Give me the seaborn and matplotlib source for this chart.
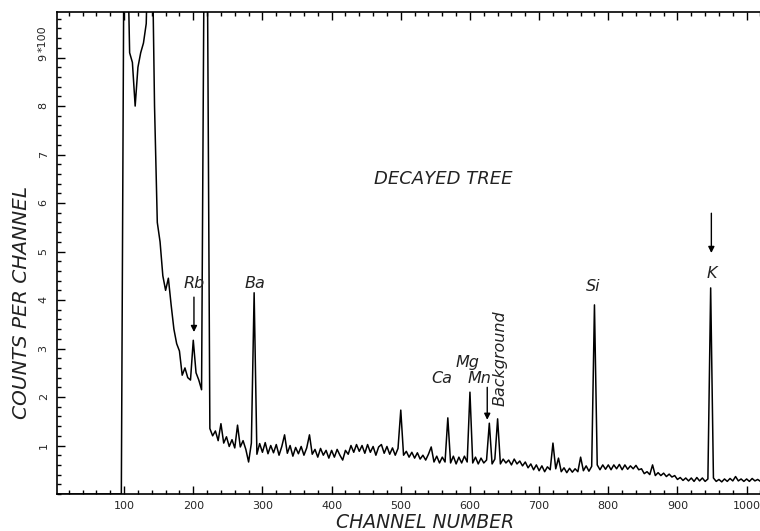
import numpy as np
import pandas as pd
import matplotlib
matplotlib.use("Agg")
import matplotlib.pyplot as plt
from matplotlib.ticker import MultipleLocator, FixedLocator
import seaborn as sns

# spectrum, counts in units of 100, one value every 4 channels (0..1036)
channels = np.arange(0, 1040, 4)
counts = [
    0, 0, 0, 0, 0, 0, 0, 0, 0, 0,                                  # 0-36
    0, 0, 0, 0, 0, 0, 0, 0, 0, 0,                                  # 40-76
    0, 0, 0, 0, 0, 12, 12, 9.1, 8.9, 8.0,                          # 80-116
    8.8, 9.1, 9.3, 9.7, 12, 12, 8.0, 5.6, 5.2, 4.5,                # 120-156
    4.2, 4.45, 3.9, 3.4, 3.1, 2.95, 2.45, 2.6, 2.4, 2.35,          # 160-196
    3.17, 2.5, 2.35, 2.15, 12, 12, 1.35, 1.2, 1.3, 1.1,            # 200-236
    1.45, 1.05, 1.18, 0.98, 1.12, 0.95, 1.42, 0.97, 1.1, 0.92,     # 240-276
    0.66, 1.05, 4.15, 0.82, 1.04, 0.86, 1.06, 0.83, 1.0, 0.85,     # 280-316
    1.02, 0.8, 0.98, 1.22, 0.84, 1.0, 0.78, 0.96, 0.83, 0.98,      # 320-356
    0.8, 0.95, 1.22, 0.82, 0.92, 0.76, 0.94, 0.8, 0.9, 0.74,       # 360-396
    0.9, 0.76, 0.92, 0.8, 0.7, 0.9, 0.82, 1.0, 0.86, 1.02,         # 400-436
    0.88, 1.0, 0.84, 1.02, 0.86, 0.98, 0.8, 0.97, 1.02, 0.84,      # 440-476
    0.98, 0.82, 0.95, 0.8, 0.94, 1.73, 0.8, 0.88, 0.76, 0.86,      # 480-516
    0.74, 0.85, 0.72, 0.8, 0.7, 0.82, 0.97, 0.66, 0.78, 0.64,      # 520-556
    0.76, 0.66, 1.57, 0.64, 0.78, 0.62, 0.76, 0.64, 0.78, 0.66,    # 560-596
    2.1, 0.64, 0.76, 0.62, 0.74, 0.64, 0.7, 1.46, 0.62, 0.72,      # 600-636
    1.55, 0.62, 0.72, 0.64, 0.7, 0.6, 0.72, 0.62, 0.68, 0.58,      # 640-676
    0.66, 0.54, 0.62, 0.5, 0.6, 0.48, 0.58, 0.46, 0.56, 0.5,       # 680-716
    1.05, 0.52, 0.74, 0.46, 0.54, 0.44, 0.53, 0.45, 0.52, 0.46,    # 720-756
    0.76, 0.48, 0.58, 0.47, 0.57, 3.9, 0.6, 0.5, 0.6, 0.51,        # 760-796
    0.6, 0.5, 0.6, 0.52, 0.61, 0.5, 0.6, 0.51, 0.58, 0.52,         # 800-836
    0.59, 0.5, 0.52, 0.42, 0.46, 0.4, 0.6, 0.38, 0.44, 0.38,       # 840-876
    0.43, 0.36, 0.41, 0.35, 0.38, 0.3, 0.34, 0.28, 0.33, 0.27,     # 880-916
    0.33, 0.26, 0.34, 0.27, 0.33, 0.26, 0.31, 4.25, 0.33, 0.26,    # 920-956
    0.3, 0.25, 0.31, 0.26, 0.32, 0.27, 0.36, 0.27, 0.31, 0.26,     # 960-996
    0.31, 0.26, 0.32, 0.27, 0.3, 0.26, 0.31, 0.27, 0.3, 0.28,      # 1000-1036
]

# peak labels: text, channel, height (x100 counts)
elem_names = ["Rb", "Ba", "Si", "K", "Ca", "Mg", "Mn"]
elem_x = [202, 289, 778, 950, 559, 596, 614]
elem_y = [4.35, 4.35, 4.27, 4.54, 2.39, 2.72, 2.39]

# arrows: channel, tail height, tip height
arrow_x = [201, 625, 949]
arrow_from = [4.06, 2.2, 5.79]
arrow_to = [3.34, 1.53, 4.97]

df = pd.DataFrame({"channel": channels, "counts": counts})

sns.set_style("ticks")
plt.rcParams["font.family"] = ["DejaVu Sans"]

fig = plt.figure(figsize=(7.6, 5.31), dpi=100)
ax = fig.add_axes([57 / 760, 37 / 531, 709 / 760, 482 / 531])

sns.lineplot(data=df, x="channel", y="counts", ax=ax, color="black",
             linewidth=1.1, estimator=None, sort=False)

ax.set_xlim(3, 1028)
ax.set_ylim(0, 9.94)

ax.xaxis.set_major_locator(FixedLocator(range(100, 1001, 100)))
ax.xaxis.set_minor_locator(MultipleLocator(20))
ax.yaxis.set_major_locator(FixedLocator(range(1, 10)))
ax.yaxis.set_minor_locator(MultipleLocator(0.2))
ax.set_yticklabels([str(i) for i in range(1, 10)])

ax.tick_params(which="both", direction="in", top=True, right=False,
               color="black", width=1.0)
ax.tick_params(which="major", axis="x", length=5.5, labelsize=8, pad=5)
ax.tick_params(which="minor", axis="x", length=2.8)
ax.tick_params(which="major", axis="y", length=6, labelsize=8, pad=6,
               labelrotation=90)
ax.tick_params(which="minor", axis="y", length=3)

for s in ["left", "bottom", "top"]:
    ax.spines[s].set_linewidth(1.2)
    ax.spines[s].set_color("black")
ax.spines["right"].set_visible(False)

ax.text(-0.0205, 9.12, "*100", transform=ax.get_yaxis_transform(),
        rotation=90, ha="center", va="bottom", fontsize=8)

ax.set_xlabel("CHANNEL NUMBER", fontsize=13.5, style="italic", color="#222222")
ax.xaxis.set_label_coords(0.519, -0.039)
ax.set_ylabel("COUNTS PER CHANNEL", fontsize=14.5, style="italic", color="#222222")
ax.yaxis.set_label_coords(-0.036, 0.398)

ax.text(562, 6.5, "DECAYED TREE", fontsize=13, style="italic",
        ha="center", va="center", color="#222222")

for name, x, y in zip(elem_names, elem_x, elem_y):
    ax.text(x, y, name, fontsize=11.5, style="italic", ha="center",
            va="center", color="#222222")
ax.text(643, 2.8, "Background", fontsize=11.5, style="italic", rotation=90,
        ha="center", va="center", color="#222222")

for x, y0, y1 in zip(arrow_x, arrow_from, arrow_to):
    ax.annotate("", xy=(x, y1), xytext=(x, y0),
                arrowprops=dict(arrowstyle="-|>", color="black", lw=1.0,
                                mutation_scale=9, shrinkA=0, shrinkB=0))

fig.savefig("out.png", dpi=100)
